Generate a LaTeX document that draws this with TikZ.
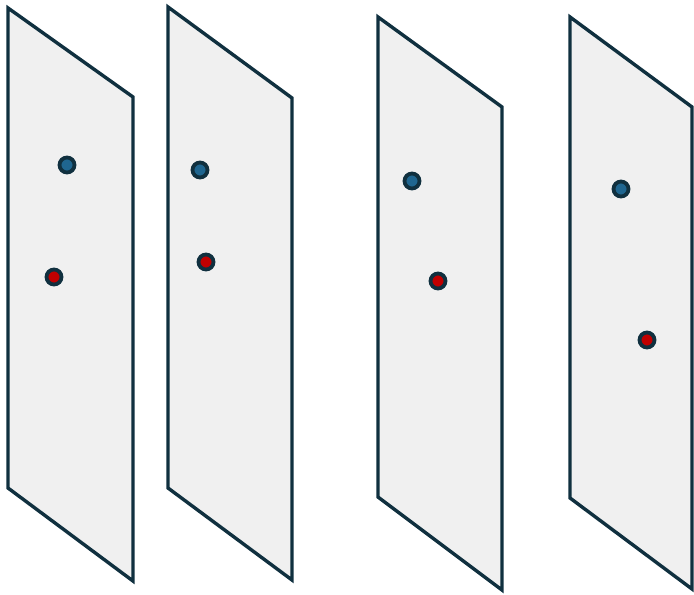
\documentclass[tikz,border=0pt]{standalone}
\definecolor{planeline}{HTML}{10303F}
\definecolor{planefill}{HTML}{F0F0F0}
\definecolor{dotblue}{HTML}{1F6690}
\definecolor{dotred}{HTML}{C00000}
\tikzset{
 plane/.style={draw=planeline,fill=planefill,line width=1.7pt,line join=miter},
 dot/.style={circle,draw=planeline,line width=1.9pt,minimum size=7.5pt,inner sep=0pt},
 bluedot/.style={dot,fill=dotblue},
 reddot/.style={dot,fill=dotred}
}
\begin{document}
\begin{tikzpicture}[x=0.5pt,y=-0.5pt]
 \useasboundingbox (0,0) rectangle (694,594);
 % planes: left edge, right edge, top-left y, top-right y, bottom-left y, bottom-right y
 \foreach \l/\r/\tl/\tr/\bl/\br in {8/133/8/97/488/581, 168/292/7/98/488/580,
   378/502/17/107/497/590, 570/692/17/107/498/589}
  \draw[plane] (\l,\tl) -- (\r,\tr) -- (\r,\br) -- (\l,\bl) -- cycle;
 \node[bluedot] (b1) at (67,165) {};
 \node[reddot] (r1) at (54,277) {};
 \node[bluedot] (b2) at (200,170) {};
 \node[reddot] (r2) at (206,262) {};
 \node[bluedot] (b3) at (412,181) {};
 \node[reddot] (r3) at (438,281) {};
 \node[bluedot] (b4) at (621,189) {};
 \node[reddot] (r4) at (647,340) {};
\end{tikzpicture}
\end{document}
